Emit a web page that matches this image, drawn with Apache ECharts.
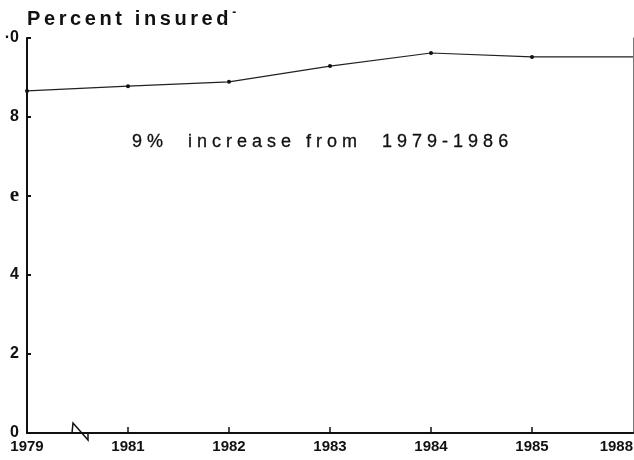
<!DOCTYPE html>
<html>
<head>
<meta charset="utf-8">
<script src="https://cdn.jsdelivr.net/npm/echarts@6/dist/echarts.min.js"></script>
<style>
  html, body { margin: 0; padding: 0; background: #fff; }
  #wrap { position: relative; width: 634px; height: 460px; }
  #chart { width: 634px; height: 460px; }
  .title {
    position: absolute; left: 27px; top: 5px;
    font: bold 20px "Liberation Sans", Arial, sans-serif;
    letter-spacing: 3.6px; color: #111; white-space: pre;
  }
  .title sup { font-size: 12px; vertical-align: 9px; }
  .note {
    position: absolute; left: 132px; top: 131px;
    font: 18px "Liberation Sans", Arial, sans-serif;
    letter-spacing: 5px; color: #111; white-space: pre;
    -webkit-text-stroke: 0.3px #111;
  }
</style>
</head>
<body>
<div id="wrap">
  <div id="chart"></div>
  <div class="title">Percent insured<sup>-</sup></div>
  <div class="note">9%  increase from  1979-1986</div>
</div>
<script>
// years as printed on the scan (the break sits between 1979 and 1981)
let years = ['1979', '1981', '1982', '1983', '1984', '1985', '1988']
let insured = [8.66, 8.78, 8.89, 9.29, 9.62, 9.52, 9.52]
// y tick labels as they read on the scan (0, 2, 4, 6, 8, 10)
let yLabels = ['0', '2', '4', 'e', '8', '·0']

let chart = echarts.init(document.getElementById('chart'))

// no dot on the last point, the line just runs out to the edge
let lineData = insured.map((v, i) => i === insured.length - 1 ? {value: v, symbol: 'none'} : v)

let option = {
    animation: false,
    grid: {left: 27, right: 1, top: 38, bottom: 27, outerBoundsMode: 'none', containLabel: false},
    xAxis: [
        {
            type: 'category',
            data: years,
            boundaryGap: false,
            axisLine: {lineStyle: {color: '#111', width: 1.5}},
            axisTick: {
                inside: true, length: 6,
                lineStyle: {color: '#111', width: 1.5},
                interval: function (i) { return i > 0 && i < years.length - 1 }
            },
            axisLabel: {
                color: '#111', fontWeight: 'bold', fontSize: 15,
                fontFamily: 'Liberation Sans',
                margin: 6,
                alignMinLabel: 'center',
                alignMaxLabel: 'right'
            },
            splitLine: {show: false}
        },
        {
            type: 'category',
            position: 'top',
            data: years,
            boundaryGap: false,
            axisLine: {lineStyle: {color: '#111', width: 2}},
            axisTick: {show: false},
            axisLabel: {show: false}
        }
    ],
    yAxis: [
        {
            type: 'value',
            min: 0, max: 10, interval: 2,
            axisLine: {show: true, lineStyle: {color: '#111', width: 2}},
            axisTick: {show: true, inside: true, length: 4, lineStyle: {color: '#111', width: 2}},
            axisLabel: {
                color: '#111', fontWeight: 'bold', fontSize: 16,
                fontFamily: 'Liberation Sans',
                margin: 8,
                formatter: function (v) {
                    let s = yLabels[Math.round(v / 2)]
                    return s === 'e' ? '{e|e}' : s
                },
                rich: {
                    e: {fontFamily: 'Liberation Serif', fontWeight: 'bold', fontSize: 21, color: '#111'}
                }
            },
            splitLine: {show: false}
        },
        {
            type: 'value',
            position: 'right',
            min: 0, max: 10, interval: 2,
            axisLine: {show: true, lineStyle: {color: '#777', width: 1}},
            axisTick: {show: false},
            axisLabel: {show: false},
            splitLine: {show: false}
        }
    ],
    series: [
        {
            name: 'Percent insured',
            type: 'line',
            data: lineData,
            symbol: 'circle',
            symbolSize: 4,
            lineStyle: {color: '#222', width: 1.2},
            itemStyle: {color: '#111'}
        }
    ],
    // axis break mark
    graphic: [
        {
            type: 'polyline',
            shape: {points: [[72, 433], [73, 423], [88, 440], [88, 432]]},
            style: {stroke: '#111', lineWidth: 1.5, fill: null}
        }
    ]
}

chart.setOption(option)
</script>
</body>
</html>
